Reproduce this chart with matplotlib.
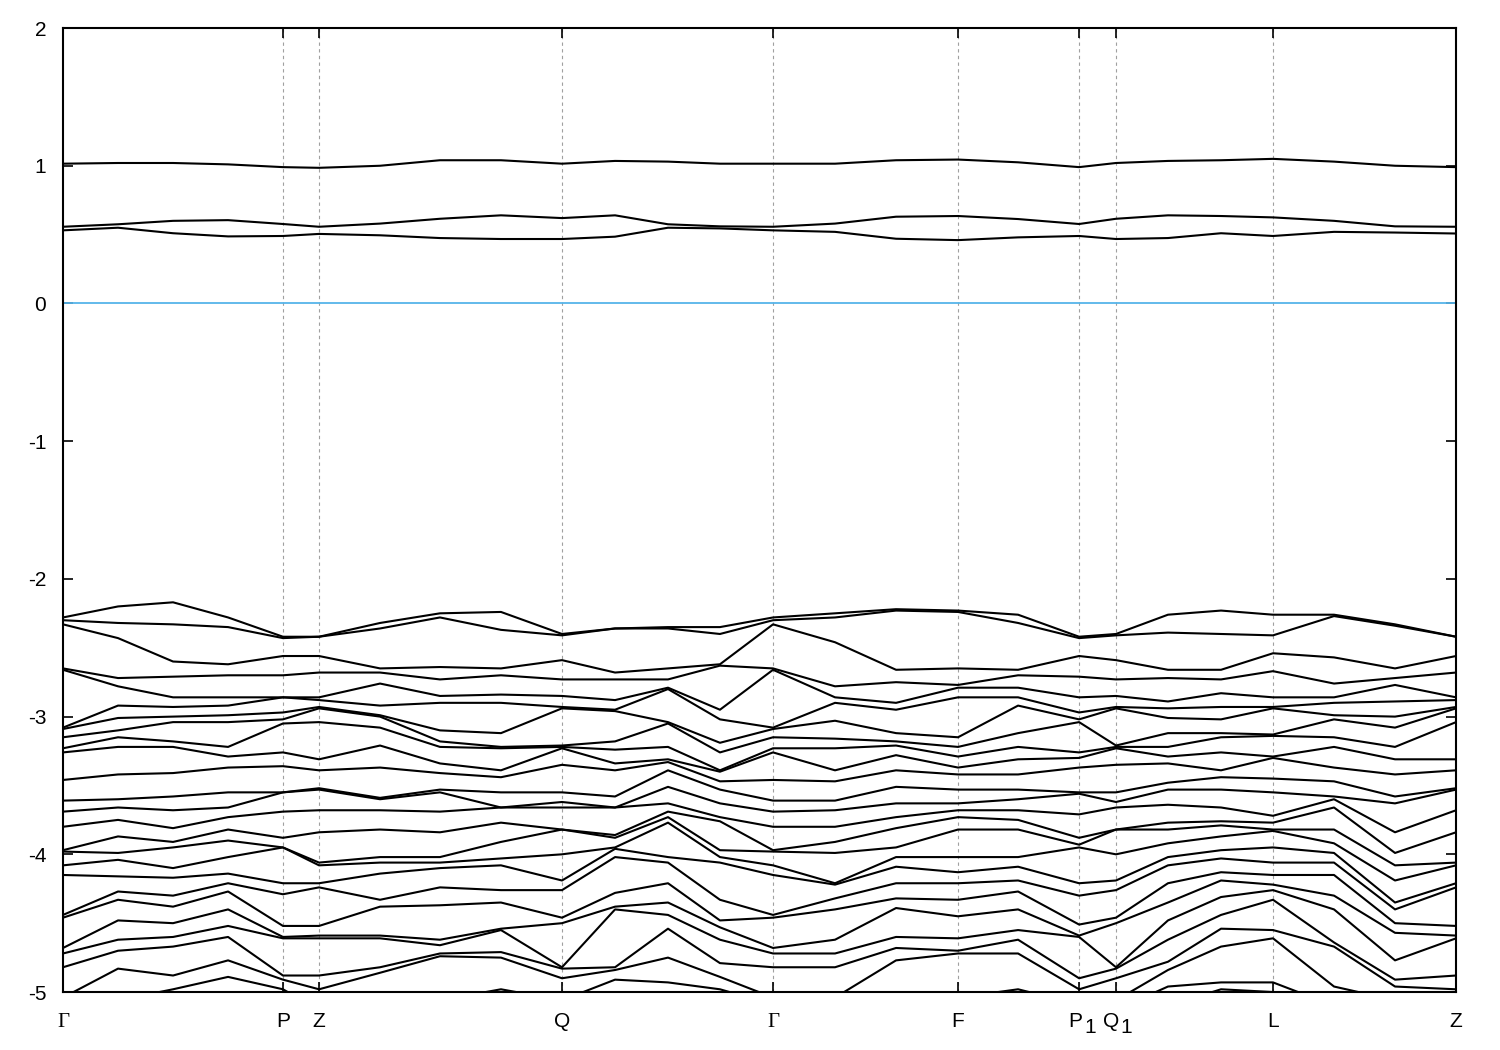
import numpy as np
import matplotlib
matplotlib.use("Agg")
import matplotlib.pyplot as plt

plt.rcParams['font.family'] = ['Liberation Sans', 'DejaVu Sans']
plt.rcParams['axes.unicode_minus'] = False

# k-path position of each sampled k-point (path length, normalised)
kpath = [0.0, 0.0395, 0.0790, 0.1185, 0.1579, 0.1838, 0.2276, 0.2706, 0.3144,
         0.3582, 0.3963, 0.4343, 0.4716, 0.5097, 0.5542, 0.5980, 0.6425,
         0.6856, 0.7294, 0.7559, 0.7932, 0.8313, 0.8686, 0.9124, 0.9562, 1.0]

# high symmetry points (label, subscript)
sym_pos = [0.0, 0.1579, 0.1838, 0.3582, 0.5097, 0.6425, 0.7294, 0.7559, 0.8686, 1.0]
sym_lab = ['Γ', 'P', 'Z', 'Q', 'Γ', 'F', 'P', 'Q', 'L', 'Z']
sym_sub = ['', '', '', '', '', '', '1', '1', '', '']

# conduction bands (eV), one value per k-point
cb_top = [1.015, 1.02, 1.02, 1.01, 0.99, 0.985, 1.0, 1.04, 1.04, 1.015, 1.035, 1.03, 1.015,
          1.015, 1.015, 1.04, 1.045, 1.025, 0.99, 1.02, 1.035, 1.04, 1.05, 1.03, 1.0, 0.99]
cb_mid = [0.557, 0.575, 0.60, 0.605, 0.577, 0.557, 0.58, 0.615, 0.64, 0.62, 0.64, 0.575, 0.56,
          0.557, 0.58, 0.63, 0.635, 0.613, 0.577, 0.615, 0.64, 0.635, 0.625, 0.60, 0.56, 0.557]
cb_low = [0.531, 0.55, 0.51, 0.487, 0.49, 0.505, 0.495, 0.475, 0.468, 0.468, 0.485, 0.55, 0.545,
          0.531, 0.52, 0.47, 0.46, 0.48, 0.49, 0.468, 0.475, 0.51, 0.49, 0.52, 0.515, 0.508]

# valence band eigenvalues (eV) at each k-point, sorted from top
ev_G = [-2.28, -2.30, -2.33, -2.65, -2.66, -3.08, -3.09, -3.15, -3.23, -3.26, -3.46, -3.61, -3.69,
        -3.80, -3.97, -3.98, -4.08, -4.15, -4.44, -4.46, -4.68, -4.72, -4.82, -5.04, -5.09, -5.13, -5.18]
ev_Z = [-2.42, -2.42, -2.56, -2.68, -2.86, -2.88, -2.93, -2.94, -3.04, -3.31, -3.39, -3.52, -3.53,
        -3.68, -3.84, -4.06, -4.08, -4.21, -4.24, -4.52, -4.59, -4.61, -4.88, -4.98, -5.13, -5.17, -5.20]
ev_Q = [-2.40, -2.41, -2.59, -2.73, -2.85, -2.93, -2.94, -3.21, -3.22, -3.23, -3.35, -3.55, -3.62,
        -3.66, -3.82, -3.82, -4.00, -4.19, -4.26, -4.46, -4.50, -4.82, -4.83, -4.90, -5.06, -5.13, -5.18]
valence = [
    ev_G,
    [-2.20, -2.32, -2.43, -2.72, -2.78, -2.92, -3.01, -3.10, -3.15, -3.22, -3.42, -3.60, -3.66,
     -3.75, -3.87, -3.99, -4.04, -4.16, -4.27, -4.33, -4.48, -4.62, -4.70, -4.83, -5.06, -5.12, -5.18],
    [-2.17, -2.33, -2.60, -2.71, -2.86, -2.93, -3.00, -3.04, -3.18, -3.22, -3.41, -3.58, -3.68,
     -3.81, -3.91, -3.95, -4.10, -4.17, -4.30, -4.38, -4.50, -4.60, -4.67, -4.88, -4.98, -5.10, -5.16],
    [-2.28, -2.35, -2.62, -2.70, -2.86, -2.92, -2.99, -3.04, -3.22, -3.29, -3.37, -3.55, -3.66,
     -3.73, -3.82, -3.90, -4.02, -4.14, -4.21, -4.27, -4.40, -4.52, -4.60, -4.77, -4.89, -5.10, -5.16],
    [-2.42, -2.43, -2.56, -2.70, -2.86, -2.86, -2.97, -3.02, -3.05, -3.26, -3.36, -3.55, -3.55,
     -3.69, -3.88, -3.95, -3.95, -4.21, -4.29, -4.52, -4.60, -4.61, -4.88, -4.91, -4.98, -5.13, -5.18],
    ev_Z,
    [-2.32, -2.36, -2.65, -2.68, -2.76, -2.92, -2.99, -3.00, -3.08, -3.21, -3.37, -3.59, -3.60,
     -3.68, -3.82, -4.02, -4.06, -4.14, -4.33, -4.38, -4.59, -4.61, -4.82, -4.86, -5.06, -5.13, -5.18],
    [-2.25, -2.28, -2.64, -2.73, -2.85, -2.90, -3.10, -3.18, -3.22, -3.34, -3.41, -3.53, -3.55,
     -3.69, -3.84, -4.02, -4.06, -4.10, -4.24, -4.37, -4.62, -4.66, -4.72, -4.74, -5.06, -5.13, -5.18],
    [-2.24, -2.37, -2.65, -2.70, -2.84, -2.90, -3.12, -3.22, -3.23, -3.39, -3.44, -3.55, -3.66,
     -3.66, -3.77, -3.91, -4.03, -4.08, -4.26, -4.35, -4.54, -4.55, -4.71, -4.75, -4.98, -5.13, -5.18],
    ev_Q,
    [-2.36, -2.36, -2.68, -2.73, -2.88, -2.95, -2.96, -3.18, -3.24, -3.34, -3.39, -3.58, -3.66,
     -3.66, -3.86, -3.88, -3.95, -3.96, -4.02, -4.28, -4.38, -4.40, -4.82, -4.84, -4.91, -5.06, -5.13],
    [-2.35, -2.36, -2.65, -2.73, -2.79, -2.80, -3.04, -3.05, -3.22, -3.31, -3.33, -3.39, -3.51,
     -3.63, -3.69, -3.73, -3.77, -4.02, -4.06, -4.21, -4.35, -4.44, -4.54, -4.75, -4.93, -5.09, -5.15],
    [-2.35, -2.40, -2.62, -2.63, -2.95, -3.02, -3.19, -3.26, -3.39, -3.40, -3.47, -3.53, -3.63,
     -3.73, -3.76, -3.97, -4.02, -4.06, -4.33, -4.48, -4.53, -4.62, -4.79, -4.89, -4.98, -5.09, -5.15],
    ev_G,
    [-2.25, -2.28, -2.46, -2.78, -2.86, -2.90, -3.03, -3.16, -3.23, -3.39, -3.47, -3.61, -3.68,
     -3.80, -3.91, -3.99, -4.21, -4.22, -4.32, -4.40, -4.62, -4.72, -4.82, -5.04, -5.09, -5.13, -5.18],
    [-2.22, -2.23, -2.66, -2.75, -2.90, -2.95, -3.12, -3.18, -3.21, -3.28, -3.39, -3.51, -3.63,
     -3.73, -3.81, -3.95, -4.02, -4.09, -4.21, -4.32, -4.39, -4.60, -4.68, -4.77, -5.04, -5.13, -5.18],
    [-2.23, -2.24, -2.65, -2.77, -2.79, -2.86, -3.15, -3.22, -3.29, -3.37, -3.42, -3.53, -3.63,
     -3.68, -3.73, -3.82, -4.02, -4.13, -4.21, -4.33, -4.45, -4.61, -4.70, -4.72, -5.04, -5.13, -5.18],
    [-2.26, -2.32, -2.66, -2.70, -2.79, -2.86, -2.92, -3.12, -3.22, -3.31, -3.42, -3.53, -3.60,
     -3.68, -3.75, -3.82, -4.02, -4.09, -4.19, -4.27, -4.40, -4.55, -4.62, -4.72, -4.98, -5.10, -5.16],
    [-2.42, -2.43, -2.56, -2.71, -2.86, -2.97, -3.02, -3.04, -3.26, -3.30, -3.37, -3.55, -3.56,
     -3.71, -3.88, -3.93, -3.95, -4.21, -4.30, -4.51, -4.59, -4.60, -4.90, -4.98, -5.09, -5.13, -5.18],
    ev_Q,
    [-2.26, -2.39, -2.66, -2.72, -2.89, -2.94, -3.01, -3.12, -3.22, -3.29, -3.34, -3.48, -3.53,
     -3.64, -3.77, -3.82, -3.92, -4.02, -4.08, -4.21, -4.35, -4.48, -4.62, -4.78, -4.84, -4.96, -5.10],
    [-2.23, -2.40, -2.66, -2.73, -2.83, -2.93, -3.02, -3.12, -3.15, -3.26, -3.39, -3.44, -3.53,
     -3.66, -3.76, -3.79, -3.87, -3.97, -4.03, -4.13, -4.19, -4.31, -4.44, -4.54, -4.67, -4.93, -4.98],
    [-2.26, -2.41, -2.54, -2.67, -2.86, -2.93, -2.94, -3.13, -3.14, -3.29, -3.30, -3.45, -3.55,
     -3.72, -3.77, -3.82, -3.83, -3.95, -4.06, -4.15, -4.22, -4.26, -4.33, -4.55, -4.61, -4.93, -5.00],
    [-2.26, -2.27, -2.57, -2.76, -2.86, -2.90, -2.99, -3.02, -3.15, -3.22, -3.37, -3.47, -3.58,
     -3.60, -3.66, -3.82, -3.92, -3.99, -4.06, -4.15, -4.30, -4.40, -4.64, -4.67, -4.96, -5.10, -5.16],
    [-2.33, -2.34, -2.65, -2.72, -2.77, -2.89, -3.00, -3.08, -3.22, -3.31, -3.42, -3.58, -3.63,
     -3.84, -3.99, -4.08, -4.19, -4.35, -4.40, -4.50, -4.57, -4.77, -4.91, -4.96, -5.06, -5.13, -5.18],
    ev_Z,
]

fig = plt.figure(figsize=(15, 10.5), dpi=100)
ax = fig.add_axes([0.042, 0.0552, 0.9287, 0.9181])

for x in sym_pos[1:-1]:
    ax.axvline(x, color='#a0a0a0', lw=0.8, ls=(0, (3, 3)), zorder=1)

ax.axhline(0, color='#56b4e9', lw=1.3, zorder=2)

bands = np.array(valence).T
for b in bands:
    ax.plot(kpath, b, color='black', lw=1.5, zorder=3)
for b in (cb_top, cb_mid, cb_low):
    ax.plot(kpath, b, color='black', lw=1.5, zorder=3)

ax.set_xlim(0, 1)
ax.set_ylim(-5, 2)
ax.set_yticks(range(-5, 3))
ax.set_xticks(sym_pos)
ax.tick_params(axis='both', direction='in', length=7, width=1.2, labelsize=15,
               top=True, right=True)
ax.tick_params(axis='y', pad=12)
ax.tick_params(axis='x', labelbottom=False)

# k-point labels, gnuplot style: subscripts at full size, dropped a little
for x, lab, sub in zip(sym_pos, sym_lab, sym_sub):
    fam = ['Liberation Serif', 'DejaVu Serif'] if lab == 'Γ' else ['Liberation Sans', 'DejaVu Sans']
    if sub:
        ax.annotate(lab, xy=(x, 0), xycoords=('data', 'axes fraction'), xytext=(2.5, -25),
                    textcoords='offset points', ha='right', va='baseline', fontsize=15, family=fam)
        ax.annotate(sub, xy=(x, 0), xycoords=('data', 'axes fraction'), xytext=(3.5, -29.5),
                    textcoords='offset points', ha='left', va='baseline', fontsize=15, family=fam)
    else:
        ax.annotate(lab, xy=(x, 0), xycoords=('data', 'axes fraction'), xytext=(0, -25),
                    textcoords='offset points', ha='center', va='baseline', fontsize=15, family=fam)

for s in ax.spines.values():
    s.set_linewidth(1.5)

fig.savefig('out.png', dpi=100)
